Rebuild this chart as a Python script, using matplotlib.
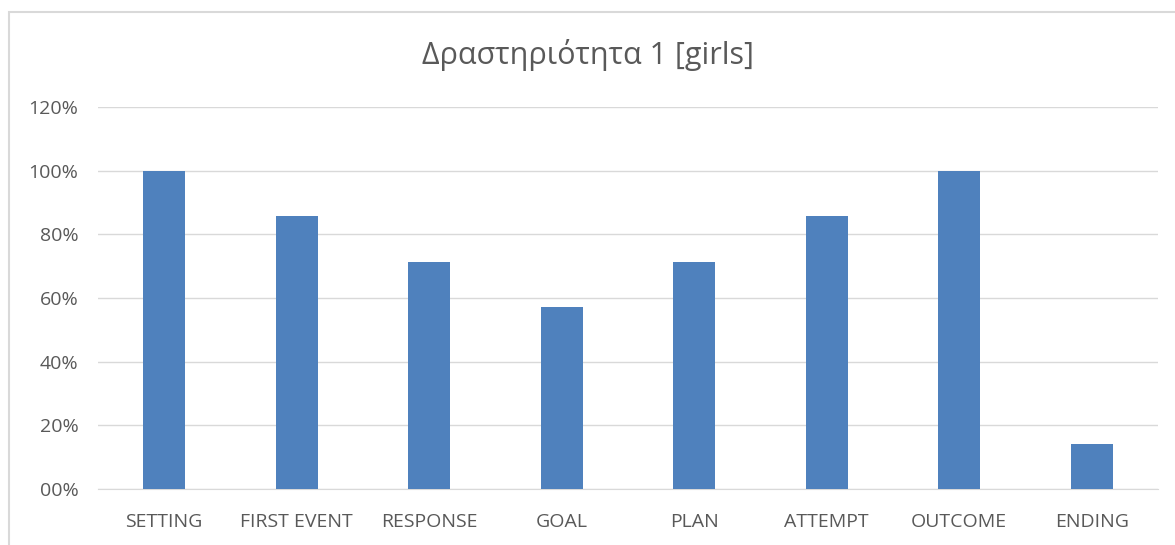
import matplotlib.pyplot as plt
from matplotlib.patches import Rectangle
from matplotlib.ticker import FuncFormatter

plt.rcParams['font.family'] = ['Open Sans', 'DejaVu Sans']

categories = ['SETTING', 'FIRST EVENT', 'RESPONSE', 'GOAL', 'PLAN', 'ATTEMPT', 'OUTCOME', 'ENDING']
share = [1.0, 6/7, 5/7, 4/7, 5/7, 6/7, 1.0, 1/7]
yticks = [0, 0.2, 0.4, 0.6, 0.8, 1.0, 1.2]

fig = plt.figure(figsize=(11.75, 5.45), dpi=100)
fig.patch.set_facecolor('white')

# light chart border
fig.add_artist(Rectangle((9/1175, -0.05), 1.2, 1 - 12/545 + 0.05, transform=fig.transFigure,
                         fill=False, edgecolor='#D9D9D9', linewidth=1.5))

ax = fig.add_axes([98/1175, 56/545, 1060/1175, 382/545])
x = range(len(categories))
ax.bar(x, share, width=0.32, color='#4F81BD', zorder=3)

ax.set_xlim(-0.5, len(categories) - 0.5)
ax.set_ylim(0, 1.2)
ax.set_yticks(yticks)
ax.yaxis.set_major_formatter(FuncFormatter(lambda v, p: '%02d%%' % round(v * 100)))
ax.set_xticks(list(x))
ax.set_xticklabels(categories)
ax.grid(axis='y', color='#D9D9D9', linewidth=1, zorder=0)
for s in ax.spines.values():
    s.set_visible(False)
ax.spines['bottom'].set_visible(True)
ax.spines['bottom'].set_color('#D9D9D9')
ax.tick_params(length=0, labelsize=14, colors='#595959')
ax.tick_params(axis='y', pad=14)
ax.tick_params(axis='x', pad=17)

fig.text(0.5, 1 - 55/545, 'Δραστηριότητα 1 [girls]', ha='center', va='center',
         fontsize=22, color='#595959')

fig.savefig('out.png', dpi=100)
